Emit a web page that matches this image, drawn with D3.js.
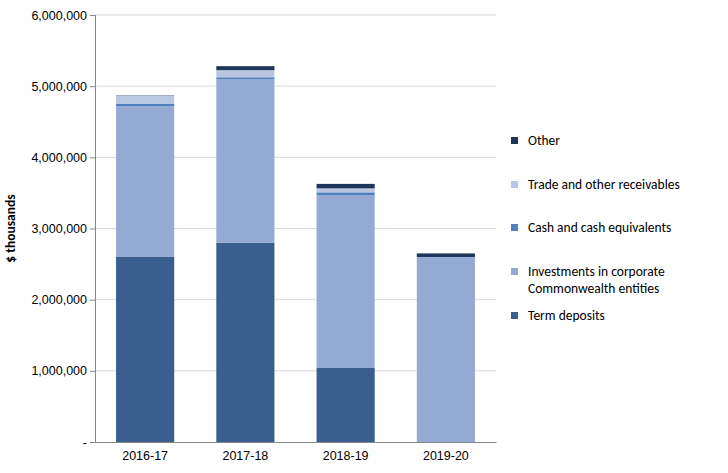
<!DOCTYPE html>
<html lang="en">
<head>
<meta charset="UTF-8" />
<script src="https://d3js.org/d3.v7.min.js"></script>
<style>
  body { margin: 0; background: #fff; font-family: Calibri, Carlito, "Liberation Sans", Arial, sans-serif; }
</style>
</head>
<body>
<div id="chart"></div>
<script>
  // Chart data (values in $ thousands)
  const years = ["2016-17", "2017-18", "2018-19", "2019-20"];
  const termDeposits = [2600000, 2800000, 1040000, 0];
  const investments = [2120000, 2300000, 2430000, 2600000];
  const cash = [30000, 25000, 38000, 0];
  const receivables = [115000, 100000, 56000, 0];
  const other = [5000, 56000, 63000, 50000];
  const yTicks = [0, 1000000, 2000000, 3000000, 4000000, 5000000, 6000000];

  const series = [
    { name: "Term deposits", values: termDeposits, color: "#3a5f8f" },
    { name: "Investments in corporate|Commonwealth entities", values: investments, color: "#94aad2" },
    { name: "Cash and cash equivalents", values: cash, color: "#4f81c0" },
    { name: "Trade and other receivables", values: receivables, color: "#b9c7e2" },
    { name: "Other", values: other, color: "#1d3659" },
  ];

  const W = 728, H = 473;
  const margin = { top: 15, right: 232, bottom: 31, left: 95 };
  const width = W - margin.left - margin.right;
  const height = H - margin.top - margin.bottom;

  const svg = d3.select("#chart").append("svg").attr("width", W).attr("height", H);
  const g = svg.append("g").attr("transform", `translate(${margin.left},${margin.top})`);

  const x = d3.scaleBand().domain(years).range([0, width]).paddingInner(0.42).paddingOuter(0.21);
  const y = d3.scaleLinear().domain([0, 6000000]).range([height, 0]);

  // gridlines
  g.selectAll(".grid").data(yTicks.slice(1)).enter().append("line")
    .attr("x1", 0).attr("x2", width)
    .attr("y1", d => y(d)).attr("y2", d => y(d))
    .attr("stroke", "#d9d9d9").attr("stroke-width", 1);

  // stacked bars
  years.forEach((yr, i) => {
    let base = 0;
    series.forEach(s => {
      const v = s.values[i];
      if (v > 0) {
        g.append("rect")
          .attr("x", x(yr)).attr("width", x.bandwidth())
          .attr("y", y(base + v)).attr("height", y(base) - y(base + v))
          .attr("fill", s.color);
      }
      base += v;
    });
  });

  // axes
  const yAxis = g.append("g").call(d3.axisLeft(y).tickValues(yTicks)
    .tickFormat(d => d === 0 ? "-" : d3.format(",")(d)).tickSize(5));
  yAxis.select(".domain").attr("stroke", "#888");
  yAxis.selectAll(".tick line").attr("stroke", "#888");
  yAxis.selectAll("text").attr("font-size", 12.5).attr("fill", "#000").attr("font-family", "inherit");

  const xAxis = g.append("g").attr("transform", `translate(0,${height})`)
    .call(d3.axisBottom(x).tickSize(0).tickPadding(9));
  xAxis.select(".domain").attr("stroke", "#888");
  xAxis.selectAll("text").attr("font-size", 12.5).attr("fill", "#000").attr("font-family", "inherit");

  g.append("text")
    .attr("transform", "rotate(-90)")
    .attr("x", -height / 2).attr("y", -80)
    .attr("text-anchor", "middle").attr("font-weight", "bold").attr("font-size", 13.5)
    .text("$ thousands");

  // legend (top to bottom: Other first)
  const legendOrder = series.slice().reverse();
  const legendRows = [141, 185, 228, 272, 316];
  const lg = svg.append("g");
  legendOrder.forEach((s, i) => {
    const yy = legendRows[i];
    lg.append("rect").attr("x", 511).attr("y", yy - 4).attr("width", 7).attr("height", 7).attr("fill", s.color);
    const t = lg.append("text").attr("x", 528).attr("y", yy + 4).attr("font-size", 13.5).attr("fill", "#000");
    s.name.split("|").forEach((line, j) => {
      t.append("tspan").attr("x", 528).attr("dy", j === 0 ? 0 : 17).text(line);
    });
  });
</script>
</body>
</html>
